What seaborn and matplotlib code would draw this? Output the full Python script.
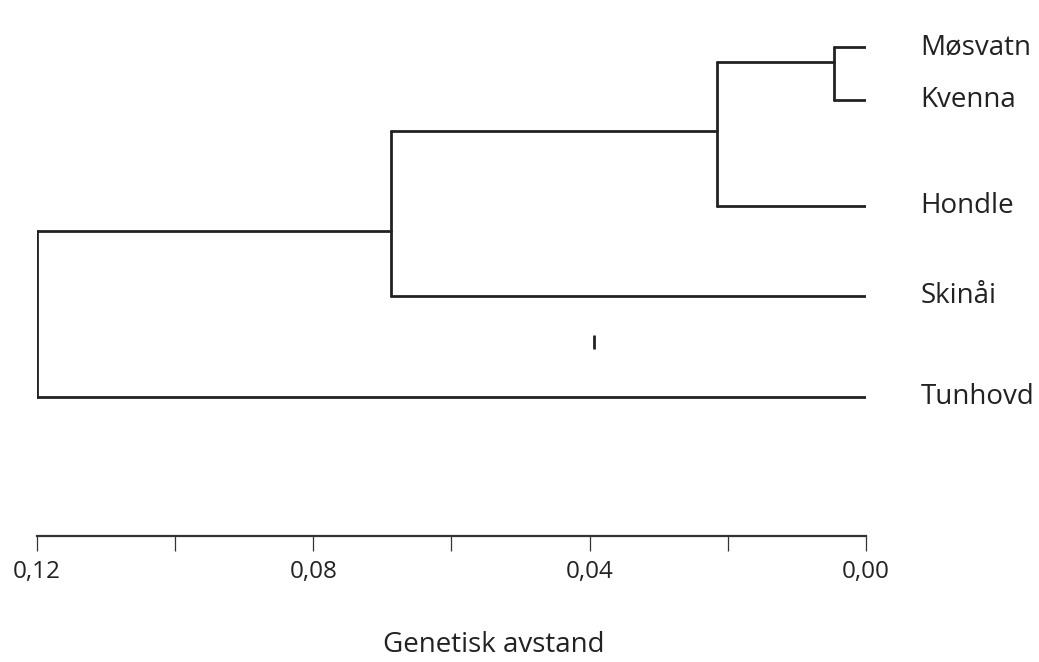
import numpy as np
import pandas as pd
import matplotlib
matplotlib.use('Agg')
import matplotlib.pyplot as plt
import matplotlib.ticker as ticker
import seaborn as sns

# leaves, top to bottom, and their row positions
leaves = ['Møsvatn', 'Kvenna', 'Hondle', 'Skinåi', 'Tunhovd']
leaf_rows = [0.0, 1.0, 3.0, 4.7, 6.6]

# merges: (left child, right child, genetic distance, row of the new node)
merge_left = ['Møsvatn', 'Møsvatn+Kvenna', 'Møsvatn+Kvenna+Hondle', 'Møsvatn+Kvenna+Hondle+Skinåi']
merge_right = ['Kvenna', 'Hondle', 'Skinåi', 'Tunhovd']
merge_dist = [0.0046, 0.0216, 0.0688, 0.12]
merge_rows = [0.28, 1.58, 3.47, 5.0]

tick_values = [0.12, 0.10, 0.08, 0.06, 0.04, 0.02, 0.00]
tick_labels = ['0,12', '', '0,08', '', '0,04', '', '0,00']

# small stray mark in the original figure
mark_x = 0.0394
mark_rows = [5.43, 5.70]

sns.set_theme(style='white')
plt.rcParams['font.family'] = ['Open Sans', 'DejaVu Sans']

# build segments of the dendrogram
node_row = dict(zip(leaves, leaf_rows))
node_dist = {k: 0.0 for k in leaves}
rows = []
seg = 0
for a, b, d, r in zip(merge_left, merge_right, merge_dist, merge_rows):
    ya, yb = node_row[a], node_row[b]
    for x0, y0, x1, y1 in [(node_dist[a], ya, d, ya), (d, ya, d, yb), (d, yb, node_dist[b], yb)]:
        rows.append({'seg': seg, 'x': x0, 'y': y0})
        rows.append({'seg': seg, 'x': x1, 'y': y1})
        seg += 1
    new = a + '+' + b
    node_row[new] = r
    node_dist[new] = d
df = pd.DataFrame(rows)

fig = plt.figure(figsize=(10.39, 6.62), dpi=100)
ax = fig.add_axes([37 / 1039, (662 - 536) / 662, (866 - 37) / 1039, (536 - 40) / 662])

sns.lineplot(data=df, x='x', y='y', units='seg', estimator=None, sort=False,
             color='#222222', linewidth=2.0, ax=ax, legend=False)
ax.vlines(mark_x, mark_rows[0], mark_rows[1], color='#222222', linewidth=2.0)

ax.set_xlim(0.12, 0.0)
ax.set_ylim((536 - 47) / 53, (40 - 47) / 53)

for name, r in zip(leaves, leaf_rows):
    ax.text(-0.0079, r, name, ha='left', va='center', fontsize=20, color='#222222',
            clip_on=False)

for s in ['top', 'right', 'left']:
    ax.spines[s].set_visible(False)
ax.spines['bottom'].set_color('#333333')
ax.spines['bottom'].set_linewidth(1.6)
ax.set_yticks([])
ax.set_xticks(tick_values)
ax.set_xticklabels(tick_labels)
ax.tick_params(axis='x', direction='out', length=11, width=0.9, color='#333333',
               bottom=True, labelsize=17.5, labelcolor='#222222', pad=6)
ax.set_xlabel('')
ax.set_ylabel('')

fig.text(494 / 1039, 1 - 645 / 662, 'Genetisk avstand', ha='center', va='center',
         fontsize=20, color='#222222')

fig.savefig('out.png', dpi=100, facecolor='white')
